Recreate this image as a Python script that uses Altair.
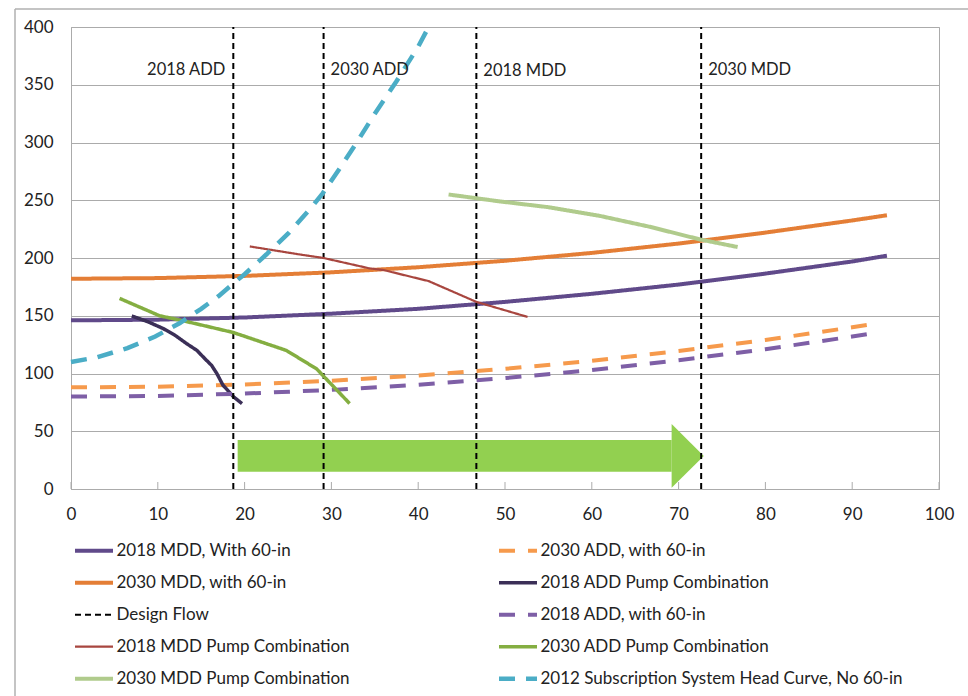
import altair as alt
import pandas as pd

# ---------------- data ----------------
SERIES = [
    "2018 MDD, With 60-in",
    "2030 ADD, with 60-in",
    "2030 MDD, with 60-in",
    "2018 ADD Pump Combination",
    "Design Flow",
    "2018 ADD, with 60-in",
    "2018 MDD Pump Combination",
    "2030 ADD Pump Combination",
    "2030 MDD Pump Combination",
    "2012 Subscription System Head Curve, No 60-in",
]
COLORS = ["#604A8A", "#F69A4C", "#E47E36", "#3B2F57", "#000000",
          "#7E5FA6", "#A8463F", "#84AE41", "#B0CB8C", "#4BADC6"]
DASHES = [[1, 0], [16, 13], [1, 0], [1, 0], [6, 4],
          [16, 13], [1, 0], [1, 0], [1, 0], [16, 11]]
WIDTHS = [4, 4, 4, 3.5, 2, 4, 2.2, 3.5, 4, 4.5]
# legend reading order (fills column by column)
LEGEND_ORDER = [0, 2, 4, 6, 8, 1, 3, 5, 7, 9]

# 2018 MDD, With 60-in
MDD18_X = [0, 10, 20, 30, 40, 50, 60, 70, 80, 90, 94]
MDD18_Y = [146, 146.6, 148.5, 151.8, 156, 162, 169, 177, 186.5, 197, 202]
# 2030 MDD, with 60-in
MDD30_X = [0, 10, 20, 30, 40, 50, 60, 70, 80, 90, 94]
MDD30_Y = [182, 182.6, 184.5, 187.6, 192, 197.6, 204.4, 212.5, 222, 232.5, 237]
# 2030 ADD, with 60-in
ADD30_X = [0, 10, 20, 30, 40, 50, 60, 70, 80, 90, 93]
ADD30_Y = [88, 88.6, 90.5, 93.8, 98.3, 104, 111, 119.5, 129, 140, 143.5]
# 2018 ADD, with 60-in
ADD18_X = [0, 10, 20, 30, 40, 50, 60, 70, 80, 90, 93]
ADD18_Y = [80, 80.6, 82.6, 85.8, 90.3, 96, 103, 111.5, 121, 132, 135.5]
# 2018 ADD Pump Combination
PADD18_X = [7.0, 8.8, 10.6, 12.0, 13.3, 14.5, 15.4, 16.2, 16.8, 17.5, 18.1, 18.7, 19.7]
PADD18_Y = [149.8, 145, 139, 133, 126, 120, 113, 107, 100, 90, 85, 80, 74]
# 2030 ADD Pump Combination
PADD30_X = [5.6, 10.2, 13.3, 18.7, 24.8, 28.3, 32.1]
PADD30_Y = [165, 150, 145, 135.5, 120, 104, 74]
# 2018 MDD Pump Combination
PMDD18_X = [20.6, 26.4, 29.1, 34.4, 36.0, 41.2, 46.7, 52.6]
PMDD18_Y = [210, 203, 200, 191, 189.6, 180, 162, 149]
# 2030 MDD Pump Combination
PMDD30_X = [43.5, 49.4, 55.0, 60.9, 66.7, 72.5, 76.8]
PMDD30_Y = [255, 249, 244, 236.5, 227, 216, 209.5]
# 2012 Subscription System Head Curve, No 60-in
SUB_X = [0, 3, 6.5, 9.7, 12.5, 15, 17, 18.7, 20, 22.5, 25, 27.5, 29, 31, 33, 35, 37.5, 40, 41.2]
SUB_Y = [110, 114, 122, 132, 143.5, 156, 167, 178, 186, 203, 221, 242, 256, 278, 301, 325, 353, 383, 400]
# Design flow verticals
DESIGN_X = [18.7, 29.1, 46.7, 72.6]
DESIGN_Y = [0, 400]
DESIGN_LABELS = ["2018 ADD", "2030 ADD", "2018 MDD", "2030 MDD"]
DESIGN_LABEL_Y = [363, 363, 361.5, 363]

# green arrow
ARROW_BODY_X = [19.2, 69.2]
ARROW_BODY_Y = [15, 42.4]
ARROW_HEAD_X = [69.2, 72.9]
ARROW_HEAD_Y = [1.1, 28.6]
ARROW_HEAD_Y2 = [56.3, 28.6]

X_TICKS = [0, 10, 20, 30, 40, 50, 60, 70, 80, 90, 100]

# ---------------- build long table ----------------
rows = []
def add(name, xs, ys, seg=0):
    for i, (x, y) in enumerate(zip(xs, ys)):
        rows.append({"series": name, "x": x, "y": y, "i": i, "seg": f"{name}-{seg}"})

add(SERIES[0], MDD18_X, MDD18_Y)
add(SERIES[1], ADD30_X, ADD30_Y)
add(SERIES[2], MDD30_X, MDD30_Y)
add(SERIES[3], PADD18_X, PADD18_Y)
for k, dx in enumerate(DESIGN_X):
    add(SERIES[4], [dx, dx], DESIGN_Y, seg=k)
add(SERIES[5], ADD18_X, ADD18_Y)
add(SERIES[6], PMDD18_X, PMDD18_Y)
add(SERIES[7], PADD30_X, PADD30_Y)
add(SERIES[8], PMDD30_X, PMDD30_Y)
add(SERIES[9], SUB_X, SUB_Y)
df = pd.DataFrame(rows)

labels_df = pd.DataFrame({"x": DESIGN_X, "y": DESIGN_LABEL_Y, "label": DESIGN_LABELS})
body_df = pd.DataFrame({"x": [ARROW_BODY_X[0]], "x2": [ARROW_BODY_X[1]],
                        "y": [ARROW_BODY_Y[0]], "y2": [ARROW_BODY_Y[1]]})
head_df = pd.DataFrame({"x": ARROW_HEAD_X, "y": ARROW_HEAD_Y, "y2": ARROW_HEAD_Y2})
ticks_df = pd.DataFrame({"x": X_TICKS})
one_df = pd.DataFrame({"a": [0]})

dom = [SERIES[k] for k in LEGEND_ORDER]
col_r = [COLORS[k] for k in LEGEND_ORDER]
dash_r = [DASHES[k] for k in LEGEND_ORDER]
wid_r = [WIDTHS[k] for k in LEGEND_ORDER]

FONT = "Lato"
TXT = "#222222"
GRID = "#ABABAB"

x_scale = alt.Scale(domain=[0, 100], nice=False)
y_scale = alt.Scale(domain=[0, 400], nice=False)

leg = dict(orient="none", legendX=1.5, legendY=508.7, columns=2,
           symbolType="stroke", symbolSize=1444, clipHeight=30,
           rowPadding=2, columnPadding=17, gridAlign="all",
           labelFont=FONT, labelFontSize=17, labelColor=TXT,
           labelLimit=0, labelOffset=1)

def X(f="x:Q"):
    return alt.X(f, scale=x_scale, title=None)

def Y(f="y:Q"):
    return alt.Y(f, scale=y_scale, title=None)

arrow_body = alt.Chart(body_df).mark_rect(color="#92D050").encode(
    x=X(), x2="x2:Q", y=Y(), y2="y2:Q",
)
arrow_head = alt.Chart(head_df).mark_area(color="#92D050", opacity=1).encode(
    x=X(), y=Y(), y2="y2:Q",
)

lines = alt.Chart(df).mark_line(strokeCap="butt").encode(
    x=X(),
    y=Y(),
    color=alt.Color("series:N", scale=alt.Scale(domain=dom, range=col_r),
                    title=None, legend=alt.Legend(**leg)),
    strokeDash=alt.StrokeDash("series:N", scale=alt.Scale(domain=dom, range=dash_r),
                              title=None, legend=alt.Legend(**leg)),
    strokeWidth=alt.StrokeWidth("series:N",
                                scale=alt.Scale(type="ordinal", domain=dom, range=wid_r),
                                title=None, legend=alt.Legend(**leg)),
    detail="seg:N",
    order="i:Q",
)

lab_left = alt.Chart(labels_df.iloc[[0]]).mark_text(
    align="right", baseline="middle", dx=-8, font=FONT, fontSize=16.5, color=TXT
).encode(x=X(), y=Y(), text="label:N")
lab_right = alt.Chart(labels_df.iloc[1:]).mark_text(
    align="left", baseline="middle", dx=7, font=FONT, fontSize=16.5, color=TXT
).encode(x=X(), y=Y(), text="label:N")

xticks = alt.Chart(ticks_df).mark_rule(color=GRID, strokeWidth=1).encode(
    x=X(), y=alt.value(462), y2=alt.value(455),
)

frame_left = alt.Chart(one_df).mark_rule(color="#B0B0B0", strokeWidth=1.5).encode(
    x=alt.value(-56), y=alt.value(-18), y2=alt.value(669))
frame_top = alt.Chart(one_df).mark_rule(color="#B0B0B0", strokeWidth=1.5).encode(
    x=alt.value(-56), x2=alt.value(897), y=alt.value(-18))

chart = alt.layer(
    arrow_body, arrow_head, xticks, lines, lab_left, lab_right, frame_left, frame_top
).properties(
    width=868, height=462,
    padding={"left": 71, "top": 27, "right": 29, "bottom": 207},
    autosize=alt.AutoSizeParams(type="none"),
    background="white",
).configure_view(
    stroke=GRID, strokeWidth=1
).configure_axis(
    labelFont=FONT, labelFontSize=17, labelColor=TXT, ticks=False, tickSize=0,
    domainColor=GRID, gridColor=GRID, labelFlush=False, labelOverlap=False,
    title=None
).configure_axisX(
    grid=False, tickCount=10, labelPadding=17
).configure_axisY(
    grid=True, tickCount=8, labelPadding=18
)

chart.save("out.html", embed_options={"renderer": "svg", "actions": False})
